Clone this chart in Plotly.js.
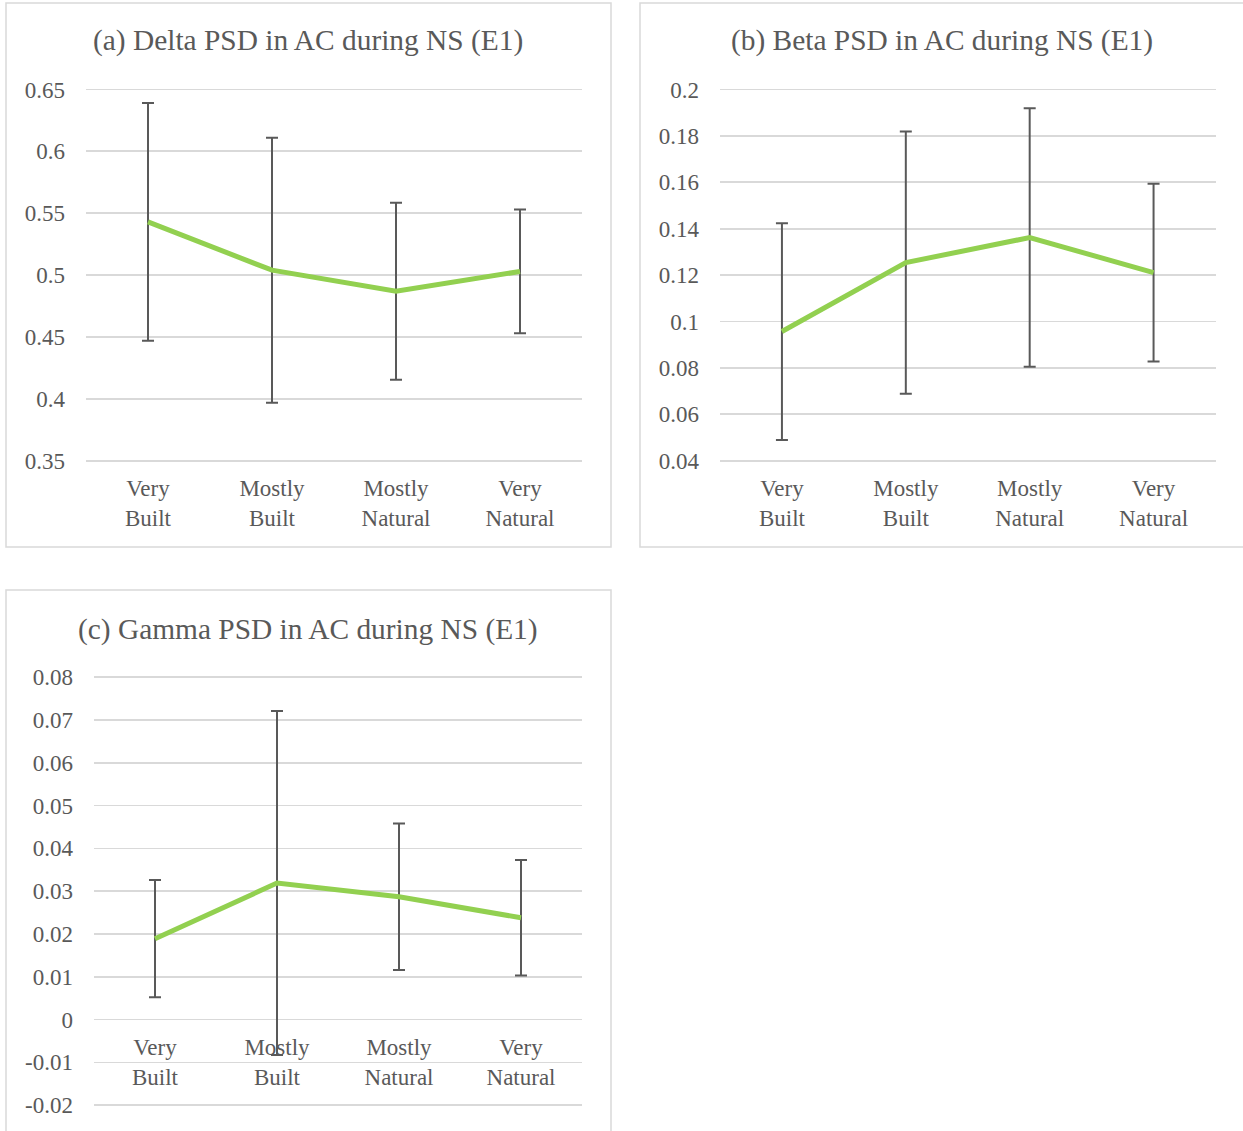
<!DOCTYPE html>
<html>
<head>
<meta charset="utf-8">
<script src="https://cdn.plot.ly/plotly-3.0.1.min.js"></script>
<style>html,body{margin:0;padding:0;background:#fff;}#chart{width:1243px;height:1131px;}</style>
</head>
<body>
<div id="chart"></div>
<script>
// ---- data ----
const categories = ['Very Built', 'Mostly Built', 'Mostly Natural', 'Very Natural'];
const deltaMean = [0.543, 0.504, 0.487, 0.503];
const deltaErr  = [0.096, 0.107, 0.0715, 0.050];
const betaMean  = [0.0957, 0.1254, 0.1362, 0.1211];
const betaErr   = [0.0467, 0.0565, 0.0557, 0.0383];
const gammaMean = [0.0189, 0.0319, 0.0287, 0.0238];
const gammaErr  = [0.0137, 0.0402, 0.0171, 0.0135];
const deltaTicks = [0.35, 0.4, 0.45, 0.5, 0.55, 0.6, 0.65];
const betaTicks  = [0.04, 0.06, 0.08, 0.1, 0.12, 0.14, 0.16, 0.18, 0.2];
const gammaTicks = [-0.02, -0.01, 0, 0.01, 0.02, 0.03, 0.04, 0.05, 0.06, 0.07, 0.08];
const titles = ['(a) Delta PSD in AC during NS (E1)', '(b) Beta PSD in AC during NS (E1)', '(c) Gamma PSD in AC during NS (E1)'];

// ---- layout helpers ----
const W = 1243, H = 1131;
const px = v => v / W;
const py = v => 1 - v / H;
const FONT = 'Liberation Serif, Times New Roman, serif';
const TXT = '#595959';
const GRID = '#d9d9d9';
const GREEN = '#92d050';
const catText = categories.map(c => c.replace(' ', '<br>'));
const PAD = 5; // px of extra space above/below the outermost gridlines

function trace(mean, err, xa, ya) {
  return {
    x: categories, y: mean, xaxis: xa, yaxis: ya, type: 'scatter', mode: 'lines',
    line: {color: GREEN, width: 5},
    error_y: {type: 'data', array: err, visible: true, color: TXT, thickness: 2, width: 6},
    hoverinfo: 'none', showlegend: false
  };
}
function xax(domain, anchor, extra) {
  return Object.assign({
    domain: domain, anchor: anchor, type: 'category', range: [-0.5, 3.5],
    tickvals: categories, ticktext: catText, showgrid: false, zeroline: false, showline: false,
    ticks: '', ticklabelstandoff: 11 - PAD, tickfont: {family: FONT, size: 23, color: TXT}, fixedrange: true
  }, extra || {});
}
// topPx/botPx: pixel rows of the range ends; range is widened by PAD px each side
function yax(topPx, botPx, anchor, range, ticks) {
  const perPx = (range[1] - range[0]) / (botPx - topPx);
  return {
    domain: [py(botPx + PAD), py(topPx - PAD)], anchor: anchor,
    range: [range[0] - PAD * perPx, range[1] + PAD * perPx],
    tickvals: ticks, ticktext: ticks.map(v => String(v)),
    showgrid: true, gridcolor: GRID, gridwidth: 1.8, zeroline: false, showline: false, ticks: '',
    ticklabelstandoff: 20, tickfont: {family: FONT, size: 23, color: TXT}, fixedrange: true
  };
}

const data = [
  trace(deltaMean, deltaErr, 'x', 'y'),
  trace(betaMean, betaErr, 'x2', 'y2'),
  trace(gammaMean, gammaErr, 'x3', 'y3')
];

const box = (x0, y0, x1, y1) => ({type: 'rect', xref: 'paper', yref: 'paper',
  x0: px(x0), x1: px(x1), y0: py(y0), y1: py(y1), line: {color: GRID, width: 1.5}, fillcolor: 'rgba(0,0,0,0)', layer: 'below'});

const layout = {
  width: W, height: H, margin: {l: 0, r: 0, t: 0, b: 0},
  paper_bgcolor: '#fff', plot_bgcolor: 'rgba(0,0,0,0)',
  xaxis: xax([px(86), px(582)], 'y'),
  yaxis: yax(89.5, 460.8, 'x', [0.35, 0.65], deltaTicks),
  xaxis2: xax([px(720), px(1215.5)], 'y2'),
  yaxis2: yax(89.5, 460.8, 'x2', [0.04, 0.2], betaTicks),
  xaxis3: xax([px(94), px(582)], 'free', {position: py(1019.7), ticklabelstandoff: 11}),
  yaxis3: yax(677.2, 1105.2, 'x3', [-0.02, 0.08], gammaTicks),
  shapes: [box(6, 547, 611, 3), box(640, 547, 1260, 3), box(6, 1150, 611, 590)],
  annotations: [
    {text: titles[0], x: px(308), y: py(41)},
    {text: titles[1], x: px(942), y: py(41)},
    {text: titles[2], x: px(308), y: py(629)}
  ].map(a => Object.assign(a, {xref: 'paper', yref: 'paper', showarrow: false, xanchor: 'center', yanchor: 'middle',
    font: {family: FONT, size: 29.4, color: TXT}}))
};

Plotly.newPlot('chart', data, layout, {staticPlot: true, displayModeBar: false});
</script>
</body>
</html>
